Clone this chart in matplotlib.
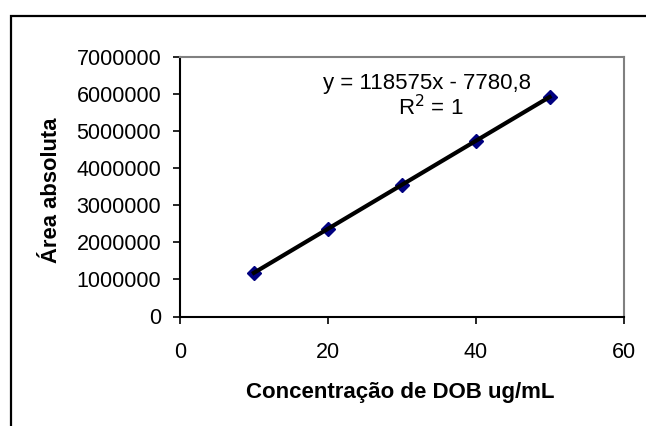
import numpy as np
import matplotlib
matplotlib.use("Agg")
import matplotlib.pyplot as plt
from matplotlib.patches import Rectangle

plt.rcParams['font.family'] = ['Liberation Sans', 'DejaVu Sans']

# curva de calibração
conc = [10, 20, 30, 40, 50]
area = [1178000, 2364000, 3549000, 4735000, 5921000]
slope = 118575
intercept = -7780.8
xticks = [0, 20, 40, 60]
yticks = [0, 1000000, 2000000, 3000000, 4000000, 5000000, 6000000, 7000000]

W, H = 646, 426
fig = plt.figure(figsize=(W / 100, H / 100), dpi=100)

# moldura externa do gráfico (cortada à direita e embaixo)
fig.patches.append(Rectangle((10.5 / W, -0.1), 1.2, 1 - 15.5 / H + 0.1,
                             transform=fig.transFigure, fill=False,
                             edgecolor='black', linewidth=1.6, zorder=0))

ax = fig.add_axes([180 / W, 1 - 316.5 / H, 443.5 / W, 259.5 / H])
ax.set_xlim(0, 60)
ax.set_ylim(0, 7000000)
ax.set_xticks(xticks)
ax.set_yticks(yticks)
ax.set_yticklabels([str(v) for v in yticks])

for s in ['top', 'right']:
    ax.spines[s].set_color('#808080')
    ax.spines[s].set_linewidth(1.5)
for s in ['left', 'bottom']:
    ax.spines[s].set_color('black')
    ax.spines[s].set_linewidth(1.5)

ax.tick_params(axis='both', direction='out', length=5, width=1.2, labelsize=15.5)
ax.tick_params(axis='y', pad=8.5)
ax.tick_params(axis='x', pad=13)

xl = np.array([conc[0], conc[-1]])
ax.plot(xl, slope * xl + intercept, color='black', linewidth=3, zorder=3)
ax.plot(conc, area, linestyle='none', marker='D', markersize=7.5,
        color='#000080', zorder=2)

ax.text(0.558, 0.877, 'y = 118575x - 7780,8', transform=ax.transAxes,
        ha='center', va='baseline', fontsize=16)
ax.text(0.565, 0.774, r'R$^2$ = 1', transform=ax.transAxes,
        ha='center', va='baseline', fontsize=16)

fig.text(400 / W, 1 - 398 / H, 'Concentração de DOB ug/mL', ha='center',
         va='baseline', fontsize=16, fontweight='bold')
fig.text(52 / W, 1 - 190 / H, 'Área absoluta', ha='center', va='center',
         rotation=90, fontsize=15.8, fontweight='bold')

fig.savefig('out.png', dpi=100)
